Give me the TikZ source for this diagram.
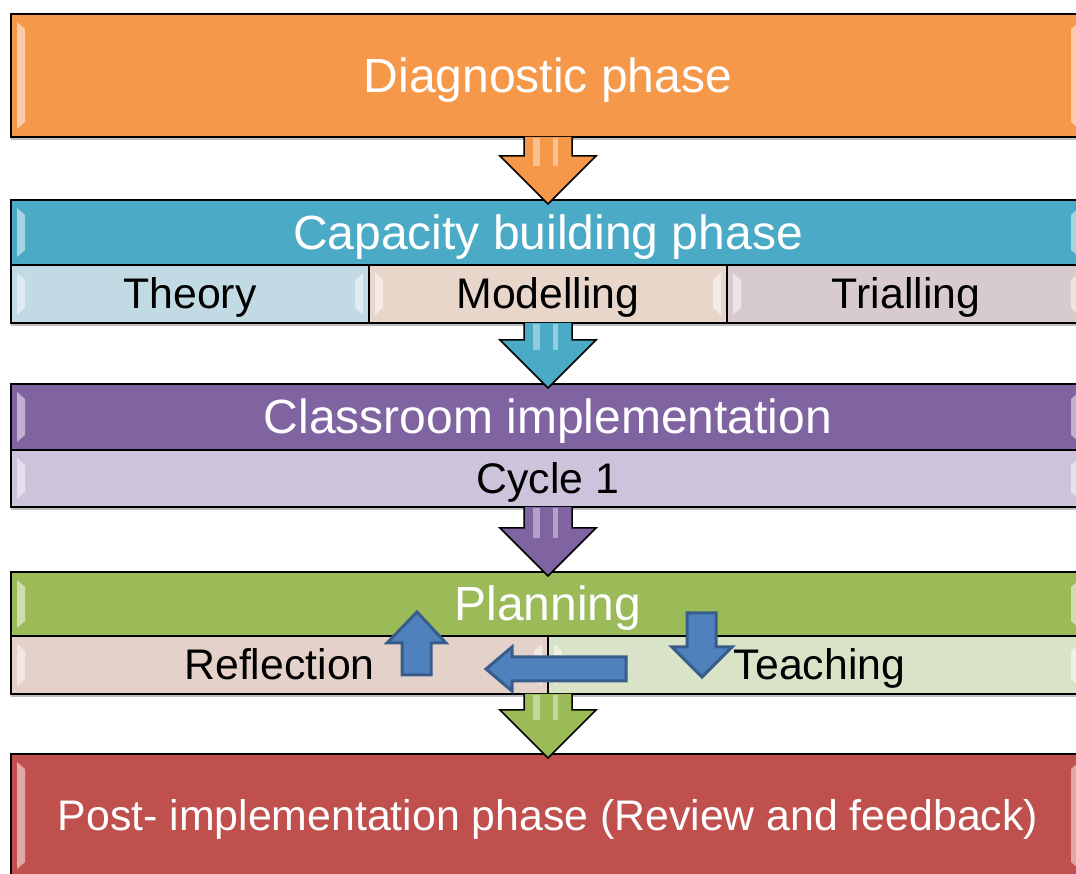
\documentclass[tikz,border=0pt]{standalone}
\usepackage{fontspec}
\setmainfont{Liberation Sans}
\usetikzlibrary{calc,shadows}
\definecolor{cOrange}{RGB}{245,152,74}
\definecolor{cTeal}{RGB}{75,170,197}
\definecolor{cPurple}{RGB}{128,100,162}
\definecolor{cGreen}{RGB}{155,187,89}
\definecolor{cRed}{RGB}{192,80,77}
\definecolor{cTheory}{RGB}{193,218,227}
\definecolor{cModel}{RGB}{232,214,203}
\definecolor{cTrial}{RGB}{216,203,206}
\definecolor{cCycle}{RGB}{204,196,218}
\definecolor{cRefl}{RGB}{227,209,202}
\definecolor{cTeach}{RGB}{216,227,200}
\definecolor{cBlue}{RGB}{79,129,189}
\definecolor{cBlueEdge}{RGB}{56,93,138}
\newcommand\bevels[1]{%
  \fill[white,opacity=.5] ($(#1.north west)+(6,-8)$) -- ($(#1.south west)+(6,8)$) -- ($(#1.south west)+(14,15)$) -- ($(#1.north west)+(14,-15)$) -- cycle;
  \fill[white,opacity=.5] ($(#1.north east)+(-6,-8)$) -- ($(#1.south east)+(-6,8)$) -- ($(#1.south east)+(-14,15)$) -- ($(#1.north east)+(-14,-15)$) -- cycle;}
\newcommand\flowarrow[3]{%
  \fill[#3] ($(#1)+(-24,0)$) -- ($(#2)+(-24,44)$) -- ($(#2)+(-48,44)$) -- ($(#2)+(0,-4)$) -- ($(#2)+(48,44)$) -- ($(#2)+(24,44)$) -- ($(#1)+(24,0)$) -- cycle;
  \fill[white,opacity=.4] ($(#1)+(-15,-1)$) rectangle ($(#2)+(-8,34)$);
  \fill[white,opacity=.4] ($(#1)+(5,-1)$) rectangle ($(#2)+(10,34)$);
  \draw[flowline] ($(#1)+(-24,0)$) -- ($(#2)+(-24,44)$) -- ($(#2)+(-48,44)$) -- ($(#2)+(0,-4)$) -- ($(#2)+(48,44)$) -- ($(#2)+(24,44)$) -- ($(#1)+(24,0)$);}
\begin{document}
\begin{tikzpicture}[x=1pt,y=1pt,
  box/.style={draw=black, line width=1.5pt, inner sep=0pt, outer sep=0pt, anchor=north west,
    text depth=0pt, drop shadow={shadow xshift=0pt, shadow yshift=-3pt, opacity=.25, fill=black}},
  big/.style={box, text height=34pt, font=\fontsize{48}{57}\selectfont, text=white},
  small/.style={box, text height=30pt, font=\fontsize{42.8}{50}\selectfont, text=black},
  flowline/.style={draw=black, line width=1.5pt, line join=miter},
  bluearrow/.style={fill=cBlue, draw=cBlueEdge, line width=3pt, line join=miter}]
\useasboundingbox (0,0) rectangle (1076,873);
\clip (0,0) rectangle (1076,873);
\fill[white] (0,0) rectangle (1076,873);

% boxes
\node[big, fill=cOrange, minimum width=1074, minimum height=123] (diag) at (11,859) {Diagnostic phase};
\node[big, fill=cTeal, minimum width=1074, minimum height=65] (cap) at (11,673) {Capacity building phase};
\node[small, fill=cTheory, minimum width=358, minimum height=58] (theory) at (11,608) {Theory};
\node[small, fill=cModel, minimum width=358, minimum height=58] (model) at (369,608) {Modelling};
\node[small, fill=cTrial, minimum width=358, minimum height=58] (trial) at (727,608) {Trialling};
\node[big, fill=cPurple, minimum width=1074, minimum height=66] (class) at (11,489) {Classroom implementation};
\node[small, fill=cCycle, minimum width=1074, minimum height=57] (cyc) at (11,423) {Cycle 1};
\node[big, fill=cGreen, minimum width=1074, minimum height=64] (plan) at (11,301) {Planning};
\node[small, fill=cRefl, minimum width=537, minimum height=58] (refl) at (11,237) {Reflection};
\node[small, fill=cTeach, minimum width=537, minimum height=58, text width=537, align=center] (teach) at (548,237) {\hspace*{6pt}Teaching};
\node[big, text height=30pt, font=\fontsize{42.8}{50}\selectfont, fill=cRed, minimum width=1074, minimum height=123] (post) at (11,119) {Post- implementation phase (Review and feedback)};

\foreach \b in {diag,cap,theory,model,trial,class,cyc,plan,refl,teach,post} {\bevels{\b}}

% flow arrows
\flowarrow{diag.south}{cap.north}{cOrange}
\flowarrow{model.south}{class.north}{cTeal}
\flowarrow{cyc.south}{plan.north}{cPurple}
\flowarrow{refl.south east}{post.north}{cGreen}

% cycle arrows
\draw[bluearrow] (402,198) -- (402,230) -- (387,230) -- (417,261) -- (446,230) -- (431,230) -- (431,198) -- cycle;
\draw[bluearrow] (626,216) -- (512,216) -- (512,226) -- (486,204) -- (512,182) -- (512,192) -- (626,192) -- cycle;
\draw[bluearrow] (687,260) -- (687,226) -- (672,226) -- (702,196) -- (732,226) -- (716,226) -- (716,260) -- cycle;
\end{tikzpicture}
\end{document}
